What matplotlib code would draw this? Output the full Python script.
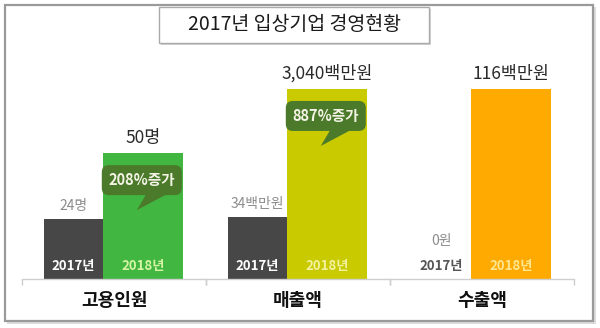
import matplotlib.pyplot as plt
from matplotlib.patches import FancyBboxPatch, Polygon
from matplotlib.ticker import NullLocator
from matplotlib.transforms import IdentityTransform

plt.rcParams["font.family"] = ["Noto Sans CJK KR", "DejaVu Sans"]

TITLE = "2017년 입상기업 경영현황"
CATEGORIES = ["고용인원", "매출액", "수출액"]
YEARS = ["2017년", "2018년"]
VALUES_2017 = [24, 34, 0]
VALUES_2018 = [50, 3040, 116]
LABELS_2017 = ["24명", "34백만원", "0원"]
LABELS_2018 = ["50명", "3,040백만원", "116백만원"]
GROWTH = ["208%증가", "887%증가", None]

# each panel gets its own scale, sales needs a log axis to fit both years
SCALES = ["linear", "log", "linear"]
Y_LIMITS = [(0, 87), (3.86, 8400), (0, 134)]

DARK = "#474747"
COLORS_2018 = ["#41b640", "#caca00", "#ffaa00"]
YEAR_TEXT_2018 = ["#d5f5a5", "#f2f2a0", "#ffe690"]
BUBBLE = "#4b7a2b"

W, H = 600, 328


def fig_xy(x, y):
    # pixel position (from top-left) -> figure fraction
    return x / W, 1 - y / H


def add_box(fig, x0, y0, x1, y1, **kw):
    (fx0, fy1), (fx1, fy0) = fig_xy(x0, y0), fig_xy(x1, y1)
    patch = FancyBboxPatch(
        (fx0, fy0), fx1 - fx0, fy1 - fy0,
        boxstyle="square,pad=0", transform=fig.transFigure, **kw
    )
    fig.patches.append(patch)


def plot_panel(ax, i):
    ax.set_yscale(SCALES[i])
    ax.set_xlim(0, 2.3)
    ax.set_ylim(*Y_LIMITS[i])
    ax.patch.set_visible(False)
    for side in ["top", "left", "right"]:
        ax.spines[side].set_visible(False)
    ax.spines["bottom"].set_color("#cfcfcf")
    ax.spines["bottom"].set_linewidth(1)
    ax.yaxis.set_major_locator(NullLocator())
    ax.yaxis.set_minor_locator(NullLocator())
    ax.set_xticks([0, 2.3])
    ax.set_xticklabels([])
    ax.tick_params(axis="x", length=4, color="#cfcfcf", width=1)

    x17, w17 = 0.27, 0.74
    x18, w18 = 1.01, 1.0
    ax.bar(x17, VALUES_2017[i], width=w17, align="edge", color=DARK, zorder=2)
    ax.bar(x18, VALUES_2018[i], width=w18, align="edge",
           color=COLORS_2018[i], zorder=2)
    c17 = x17 + w17 / 2
    c18 = x18 + w18 / 2

    # value labels above bars
    lift = 6 if VALUES_2017[i] > 0 else 31
    ax.annotate(LABELS_2017[i], xy=(c17, max(VALUES_2017[i], Y_LIMITS[i][0])),
                xytext=(0, lift), textcoords="offset pixels",
                ha="center", va="bottom", fontsize=10, color="#8c8c8c")
    ax.annotate(LABELS_2018[i], xy=(c18, VALUES_2018[i]),
                xytext=(0, 6), textcoords="offset pixels",
                ha="center", va="bottom", fontsize=12.5, color="#2a2a2a")

    # year labels inside the bars
    base = ax.get_xaxis_transform()
    col17 = "white" if VALUES_2017[i] > 0 else "#555555"
    ax.annotate(YEARS[0], xy=(c17, 0), xycoords=base, xytext=(0, 13),
                textcoords="offset pixels", ha="center", va="center",
                fontsize=9.5, fontweight="bold", color=col17, zorder=3)
    ax.annotate(YEARS[1], xy=(c18, 0), xycoords=base, xytext=(0, 13),
                textcoords="offset pixels", ha="center", va="center",
                fontsize=9.5, fontweight="bold", color=YEAR_TEXT_2018[i],
                zorder=3)

    # category name under the baseline
    ax.annotate(CATEGORIES[i], xy=(0.5, 0), xycoords="axes fraction",
                xytext=(0, -22), textcoords="offset pixels",
                ha="center", va="center", fontsize=13, fontweight="bold",
                color="#111111")

    # growth speech bubble on the 2018 bar
    if GROWTH[i]:
        px, py = ax.transData.transform((c18, VALUES_2018[i]))
        box = FancyBboxPatch((px - 41, py - 42), 80, 30,
                             boxstyle="round,pad=0,rounding_size=7",
                             transform=IdentityTransform(), fc=BUBBLE,
                             ec="none", zorder=4, clip_on=False)
        tail = Polygon([(px + 4, py - 40), (px + 26, py - 40),
                        (px - 6, py - 57)], closed=True,
                       transform=IdentityTransform(), fc=BUBBLE, ec="none",
                       zorder=4, clip_on=False)
        ax.add_patch(box)
        ax.add_patch(tail)
        ax.annotate(GROWTH[i], xy=(c18, VALUES_2018[i]),
                    xytext=(-1, -27), textcoords="offset pixels",
                    ha="center", va="center", fontsize=10.5,
                    fontweight="bold", color="#f4f4e6", zorder=5)


def main():
    fig = plt.figure(figsize=(W / 100, H / 100), dpi=100)
    fig.patch.set_facecolor("white")

    # outer frame with a soft shadow, kept behind the panels
    add_box(fig, 7, 7, 596, 324, fc="#dcdcdc", ec="none", zorder=-3)
    add_box(fig, 5, 5, 593, 321, fc="white", ec="#9a9a9a", lw=1.6,
            zorder=-2)

    # title box
    add_box(fig, 161, 9, 431, 45, fc="#d4d4d4", ec="none", zorder=-1)
    add_box(fig, 159, 7, 429, 43, fc="white", ec="#aaaaaa", lw=1,
            zorder=-1)
    tx, ty = fig_xy(294, 25)
    fig.text(tx, ty, TITLE, ha="center", va="center", fontsize=14,
             fontweight="medium", color="#1a1a1a")

    for i in range(len(CATEGORIES)):
        left = 22 + 184 * i
        x0, y0 = fig_xy(left, 279)
        ax = fig.add_axes([x0, y0, 184 / W, 219 / H])
        plot_panel(ax, i)

    fig.savefig("out.png", dpi=100)


if __name__ == "__main__":
    main()
